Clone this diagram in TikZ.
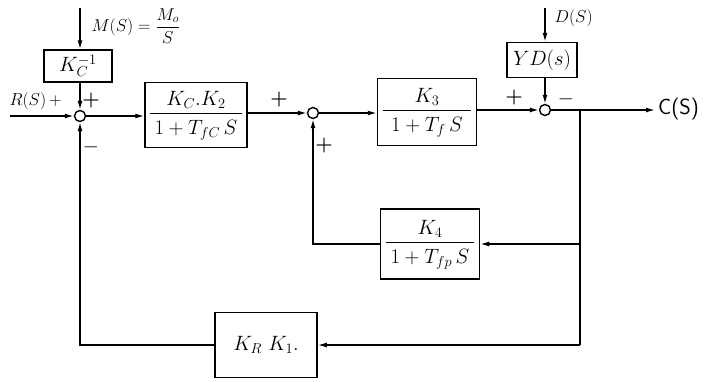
\documentclass[tikz,border=0pt]{standalone}
\usetikzlibrary{arrows.meta}
\newcommand{\frc}[3]{$\begin{array}{c}\makebox[#1]{$#2$}\\[1pt]\hline\rule{0pt}{21pt}#3\end{array}$}
\begin{document}
\begin{tikzpicture}[x=1pt,y=-1pt,
  blk/.style={draw,line width=1.5pt,inner sep=0pt,font=\fontsize{21}{24}\selectfont},
  sumj/.style={draw,circle,line width=1.4pt,minimum size=11pt,inner sep=0pt},
  ln/.style={line width=1.4pt},
  arr/.style={line width=1.4pt,-{Latex[length=9pt,width=5pt]}},
  sg/.style={font=\fontsize{20}{22}\selectfont\bfseries}]
\useasboundingbox (0,0) rectangle (712,381);
% summing junctions
\node[sumj] (s1) at (80,116) {};
\node[sumj] (s2) at (313,113) {};
\node[sumj] (s3) at (545,110) {};
% blocks
\node[blk,minimum width=68pt,minimum height=32pt] (kc) at (78,66) {$K_C^{-1}$};
\node[blk,minimum width=102pt,minimum height=65pt] (b1) at (196,115)
  {\frc{78pt}{K_C.K_2}{1+T_{fC}\,S}};
\node[blk,minimum width=99pt,minimum height=67pt] (b3) at (427,112)
  {\frc{78pt}{K_3}{1+T_f\,S}};
\node[blk,minimum width=70pt,minimum height=35pt] (yd) at (542,60) {$YD(s)$};
\node[blk,minimum width=99pt,minimum height=70pt] (b4) at (430,244)
  {\frc{78pt}{K_4}{1+T_{fp}\,S}};
\node[blk,minimum width=102pt,minimum height=65pt] (bR) at (266,345) {$K_R\ K_1.$};
% coordinates
\coordinate (mtop) at (80,8);
\coordinate (dtop) at (545,8);
\coordinate (rin) at (10,116);
\coordinate (br) at (580,110);
\coordinate (out) at (655,110);
\coordinate (f4) at (580,244);
\coordinate (fR) at (580,345);
\coordinate (c1) at (80,345);
\coordinate (c2) at (313,244);
% forward path
\draw[arr] (mtop) -- (kc.north -| mtop);
\draw[arr] (kc.south -| s1) -- (s1.north);
\draw[arr] (rin) -- (s1.west);
\draw[arr] (s1.east) -- (b1.west |- s1);
\draw[arr] (b1.east |- s2) -- (s2.west);
\draw[arr] (s2.east) -- (b3.west |- s2);
\draw[arr] (b3.east |- s3) -- (s3.west);
\draw[arr] (dtop) -- (yd.north -| dtop);
\draw[arr] (yd.south -| s3) -- (s3.north);
\draw[arr] (s3.east) -- (out);
% feedback paths
\draw[ln] (br) -- (fR);
\draw[arr] (f4) -- (b4.east);
\draw[arr] (fR) -- (bR.east);
\draw[arr] (b4.west) -- (c2) -- (s2.south);
\draw[arr] (bR.west) -- (c1) -- (s1.south);
% labels
\node[anchor=west,font=\fontsize{17}{20}\selectfont] at (88,26) {$M(S)=\displaystyle\frac{M_o}{S}$};
\node[anchor=west,font=\fontsize{18}{20}\selectfont] at (551,18) {$D(S)$};
\node[anchor=west,font=\fontsize{17}{20}\selectfont] at (6,101) {$R(S)\,+$};
\node[anchor=west,inner sep=1pt,font=\fontsize{22}{24}\sffamily] at (657,109) {C(S)};
\node[sg] at (91,101) {+};
\node[sg] at (91,147) {$-$};
\node[sg] at (279,100) {+};
\node[sg] at (324,146) {+};
\node[sg] at (514,98) {+};
\node[sg] at (566,99) {$-$};
\end{tikzpicture}
\end{document}
